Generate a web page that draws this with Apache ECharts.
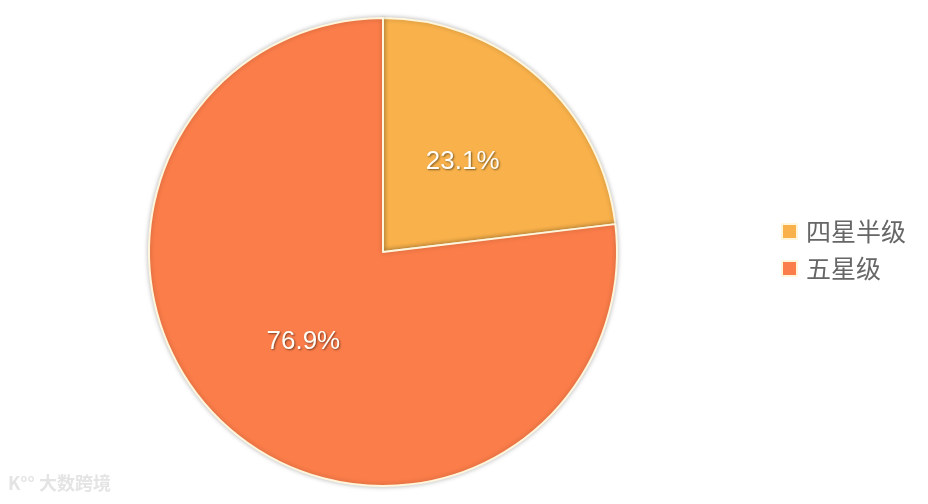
<!DOCTYPE html>
<html><head><meta charset="utf-8">
<script src="https://cdn.jsdelivr.net/npm/echarts@6/dist/echarts.min.js"></script>
<style>html,body{margin:0;padding:0;background:#fff}#c{width:928px;height:504px}</style>
</head><body><div id="c"></div>
<script>
const categories = ['四星半级', '五星级'];
const values = [23.1, 76.9];
const colors = ['#F9B24B', '#FB7D4A'];

const chart = echarts.init(document.getElementById('c'));
chart.setOption({
  animation: false,
  color: colors,
  legend: {
    orient: 'vertical',
    left: 776,
    top: 214,
    itemWidth: 15,
    itemHeight: 15,
    itemGap: 12,
    icon: 'rect',
    textStyle: { fontSize: 25, color: '#666', fontFamily: 'Noto Sans CJK SC', padding: [0, 0, 0, 4] },
    data: categories
  },
  graphic: [{
    type: 'text', left: 8, top: 474,
    style: { text: 'K°° 大数跨境', fontSize: 18, fill: '#e4e4e4', fontFamily: 'Noto Sans CJK SC', fontWeight: 'bold' }
  }],
  series: [{
    type: 'pie',
    center: [383, 252],
    radius: [0, 234],
    startAngle: 90,
    clockwise: true,
    label: {
      position: 'inside',
      formatter: '{d}%',
      fontSize: 26,
      color: '#fffdf5',
      fontFamily: 'Liberation Sans, Arial',
      textShadowColor: 'rgba(0,0,0,0.5)',
      textShadowBlur: 2,
      textShadowOffsetX: 1,
      textShadowOffsetY: 1
    },
    labelLine: { show: false },
    itemStyle: {
      borderColor: '#FFF6DC',
      borderWidth: 2,
      shadowColor: 'rgba(0,0,0,0.25)',
      shadowBlur: 5
    },
    emphasis: { disabled: true },
    data: categories.map((n, i) => ({ name: n, value: values[i] }))
  }]
});
</script></body></html>
